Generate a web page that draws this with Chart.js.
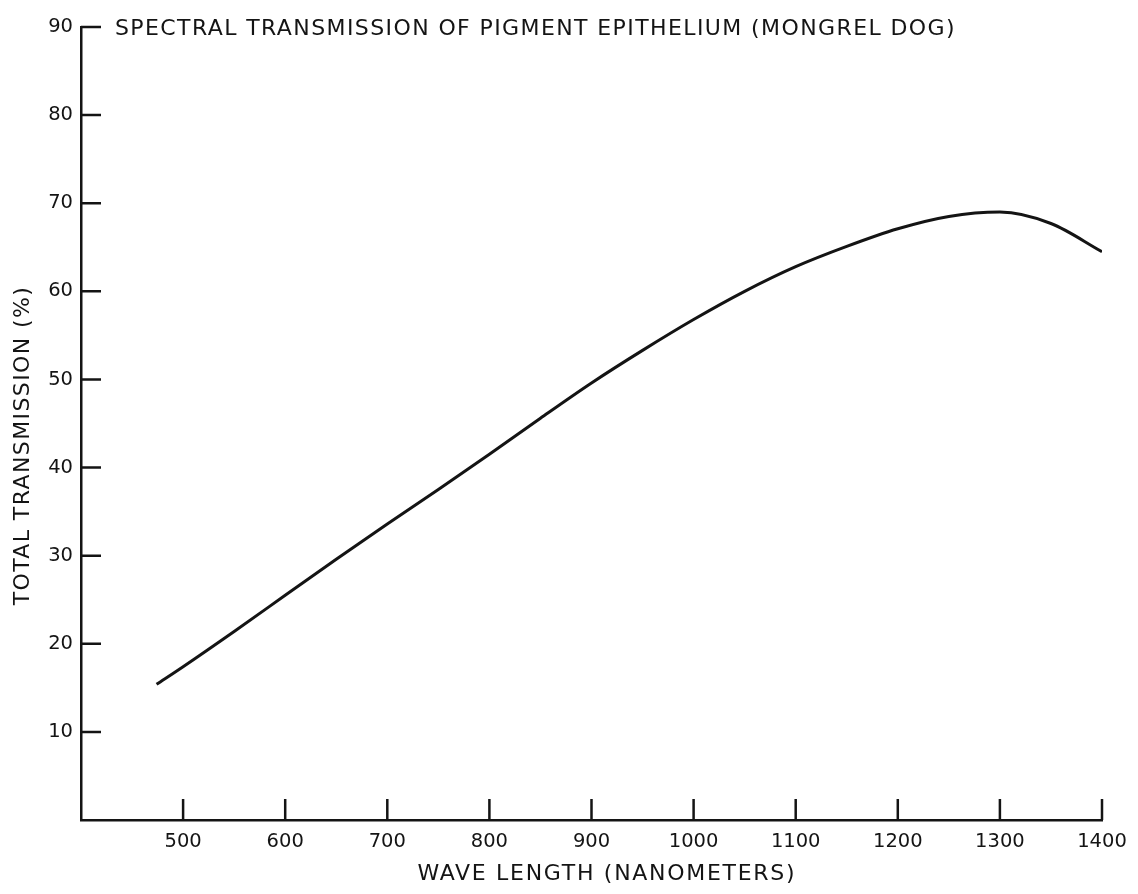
<!DOCTYPE html>
<html>
<head>
<meta charset="utf-8">
<script src="https://cdn.jsdelivr.net/npm/chart.js@4.4.0/dist/chart.umd.min.js"></script>
<style>
  html, body { margin: 0; padding: 0; background: #fff; }
  #wrap { width: 1138px; height: 894px; }
</style>
</head>
<body>
<div id="wrap"><canvas id="chart1" width="1138" height="894"></canvas></div>
<script>
// values
const wavelengths = [474, 500, 550, 600, 650, 700, 750, 800, 850, 900, 950, 1000, 1050, 1100, 1150, 1200, 1250, 1300, 1350, 1400];
const transmission = [15.4, 17.4, 21.4, 25.5, 29.6, 33.6, 37.5, 41.5, 45.6, 49.6, 53.3, 56.8, 60.0, 62.8, 65.1, 67.1, 68.5, 69.0, 67.7, 64.5];
const xTickLabels = [500, 600, 700, 800, 900, 1000, 1100, 1200, 1300, 1400];
const yTickLabels = [10, 20, 30, 40, 50, 60, 70, 80, 90];

const titleText = 'SPECTRAL TRANSMISSION OF PIGMENT EPITHELIUM (MONGREL DOG)';
const xTitle = 'WAVE LENGTH (NANOMETERS)';
const yTitle = 'TOTAL TRANSMISSION (%)';
const ink = '#141414';
const fontFamily = "'DejaVu Sans', sans-serif";

var points = [];
for (var i = 0; i < wavelengths.length; i++) {
	points.push({x: wavelengths[i], y: transmission[i]});
}

// tick marks drawn inward, title and axis titles with hand lettering spacing
const inwardTicks = {
	id: 'inwardTicks',
	afterDraw(chart) {
		const ctx = chart.ctx;
		const xs = chart.scales.x, ys = chart.scales.y;
		const area = chart.chartArea;
		ctx.save();
		ctx.strokeStyle = ink;
		ctx.lineWidth = 2.5;
		ctx.lineCap = 'butt';
		ctx.beginPath();
		yTickLabels.forEach(v => {
			const py = ys.getPixelForValue(v);
			ctx.moveTo(area.left, py);
			ctx.lineTo(area.left + 20, py);
		});
		xTickLabels.forEach(v => {
			const px = xs.getPixelForValue(v);
			ctx.moveTo(px, area.bottom);
			ctx.lineTo(px, area.bottom - 21);
		});
		ctx.stroke();

		ctx.fillStyle = ink;
		ctx.letterSpacing = '1.4px';
		ctx.font = '22px ' + fontFamily;
		ctx.textBaseline = 'middle';
		ctx.textAlign = 'left';
		ctx.fillText(titleText, area.left + 34, ys.getPixelForValue(90) + 2);

		ctx.letterSpacing = '1.7px';
		ctx.textAlign = 'center';
		ctx.fillText(xTitle, xs.getPixelForValue(915), 874);

		ctx.letterSpacing = '1.4px';
		ctx.translate(23, ys.getPixelForValue(42.5));
		ctx.rotate(-Math.PI / 2);
		ctx.fillText(yTitle, 0, 0);
		ctx.restore();
	}
};

var ctx = document.getElementById('chart1').getContext('2d');
ctx.letterSpacing = '1.5px';
var myChart = new Chart(ctx, {
	type: 'line',
	data: {
		datasets: [{
			data: points,
			borderColor: ink,
			borderWidth: 3,
			pointRadius: 0,
			fill: false,
			cubicInterpolationMode: 'monotone'
		}]
	},
	options: {
		responsive: false,
		animation: false,
		layout: { padding: { top: 27, right: 36, left: 0, bottom: 0 } },
		plugins: {
			legend: { display: false },
			tooltip: { enabled: false }
		},
		scales: {
			x: {
				type: 'linear',
				min: 400,
				max: 1400,
				afterFit: s => { s.height = 74; },
				border: { color: ink, width: 2.5 },
				grid: { display: false, drawTicks: false },
				ticks: {
					stepSize: 100,
					padding: 10,
					color: ink,
					font: { family: fontFamily, size: 19.5 },
					maxRotation: 0,
					callback: v => (v === 400 ? '' : v)
				}
			},
			y: {
				min: 0,
				max: 90,
				afterFit: s => { s.width = 81; },
				border: { color: ink, width: 2.5 },
				grid: { display: false, drawTicks: false },
				ticks: {
					stepSize: 10,
					padding: 8,
					color: ink,
					font: { family: fontFamily, size: 19.5 },
					callback: v => (v === 0 ? '' : v)
				}
			}
		}
	},
	plugins: [inwardTicks]
});
</script>
</body>
</html>
